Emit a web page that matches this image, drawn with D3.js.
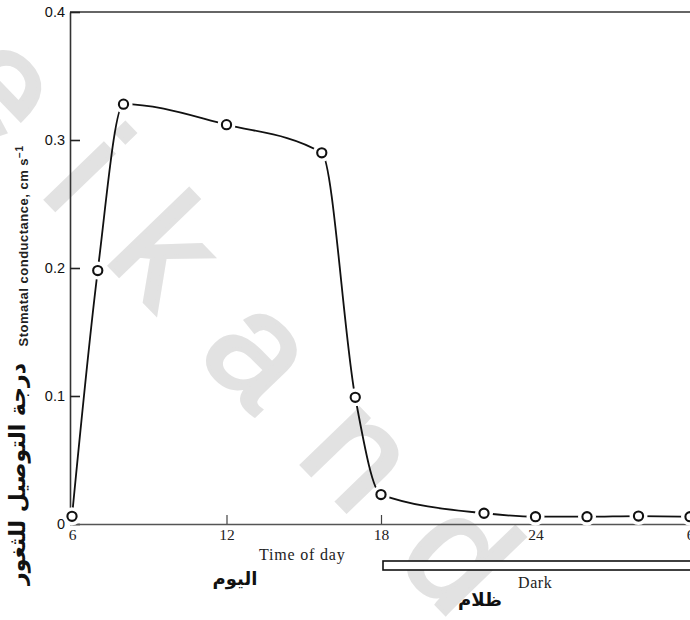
<!DOCTYPE html>
<html>
<head>
<meta charset="utf-8">
<script src="https://cdn.jsdelivr.net/npm/d3@7"></script>
<style>
  html, body { margin: 0; padding: 0; background: #fff; }
  svg { display: block; }
</style>
</head>
<body>
<svg id="chart" width="690" height="620"></svg>
<script>
// ---- data ----
const hours = [6, 7, 8, 12, 15.7, 17, 18, 22, 24, 26, 28, 30];
const conductance = [0.006, 0.198, 0.328, 0.312, 0.290, 0.099, 0.023, 0.0084, 0.0057, 0.0057, 0.0062, 0.0057];
const xTickValues = [6, 12, 18, 24, 30];
const xTickLabels = ["6", "12", "18", "24", "6"];
const yTickValues = [0, 0.1, 0.2, 0.3, 0.4];
const yTickLabels = ["0", "0.1", "0.2", "0.3", "0.4"];
const darkPeriod = [18, 30];
const watermarkText = "eikanda";

const points = hours.map((h, i) => ({ h, v: conductance[i] }));

const svg = d3.select("#chart");
const x = d3.scaleLinear().domain([6, 30]).range([72, 690]);
const y = d3.scaleLinear().domain([0, 0.4]).range([524, 12]);

// watermark
svg.append("text")
  .attr("transform", "translate(-60,90) rotate(46)")
  .attr("font-family", "Liberation Sans, Arial, sans-serif")
  .attr("font-size", 152)
  .attr("letter-spacing", 58)
  .attr("fill", "#e2e2e2")
  .attr("stroke", "#e2e2e2").attr("stroke-width", 4)
  .text(watermarkText);

// top frame line
svg.append("line")
  .attr("x1", 70).attr("x2", 690).attr("y1", y(0.4)).attr("y2", y(0.4))
  .attr("stroke", "#333").attr("stroke-width", 1.6);

// y axis
const yAxis = d3.axisLeft(y)
  .tickValues(yTickValues)
  .tickFormat((d, i) => yTickLabels[i])
  .tickSizeInner(-10).tickSizeOuter(0).tickPadding(5);
const gy = svg.append("g").attr("transform", "translate(70,0)").call(yAxis);
gy.select(".domain").attr("stroke", "#333").attr("stroke-width", 1.6);
gy.selectAll(".tick line").attr("stroke", "#222").attr("stroke-width", 1.6);
gy.selectAll(".tick text")
  .attr("font-family", "Liberation Sans, Arial, sans-serif")
  .attr("font-size", 14.5).attr("fill", "#111");

// x axis
const xAxis = d3.axisBottom(x)
  .tickValues(xTickValues)
  .tickFormat((d, i) => xTickLabels[i])
  .tickSizeInner(-9).tickSizeOuter(0).tickPadding(5);
const gx = svg.append("g").attr("transform", "translate(0,524)").call(xAxis);
gx.select(".domain").attr("stroke", "#555").attr("stroke-width", 1.4);
gx.selectAll(".tick line").attr("stroke", "#444").attr("stroke-width", 1.2);
gx.selectAll(".tick text")
  .attr("font-family", "Liberation Serif, Times New Roman, serif")
  .attr("font-size", 15.5).attr("fill", "#222");

// curve
const line = d3.line()
  .x(d => x(d.h)).y(d => y(d.v))
  .curve(d3.curveMonotoneX);
svg.append("path")
  .datum(points)
  .attr("d", line)
  .attr("fill", "none")
  .attr("stroke", "#111")
  .attr("stroke-width", 1.8);

// halos creating gaps near markers
svg.selectAll("circle.halo").data(points).join("circle")
  .attr("class", "halo")
  .attr("cx", d => x(d.h)).attr("cy", d => y(d.v))
  .attr("r", 9).attr("fill", "#fff");

svg.selectAll("circle.pt").data(points).join("circle")
  .attr("class", "pt")
  .attr("cx", d => x(d.h)).attr("cy", d => y(d.v))
  .attr("r", 4.6).attr("fill", "#fff")
  .attr("stroke", "#111").attr("stroke-width", 2.1);

// dark bar
svg.append("rect")
  .attr("x", x(darkPeriod[0]) + 2).attr("y", 561)
  .attr("width", x(darkPeriod[1]) - x(darkPeriod[0]) + 4).attr("height", 9)
  .attr("fill", "#fff").attr("stroke", "#111").attr("stroke-width", 1.6);

// labels
svg.append("text")
  .attr("x", 259).attr("y", 560)
  .attr("font-family", "Liberation Serif, Times New Roman, serif")
  .attr("font-size", 16).attr("letter-spacing", 0.8).attr("fill", "#222")
  .text("Time of day");

svg.append("text")
  .attr("x", 518).attr("y", 588)
  .attr("font-family", "Liberation Serif, Times New Roman, serif")
  .attr("font-size", 16).attr("letter-spacing", 0.6).attr("fill", "#222")
  .text("Dark");

svg.append("text")
  .attr("x", 235).attr("y", 585)
  .attr("text-anchor", "middle")
  .attr("font-family", "DejaVu Sans, sans-serif").attr("font-weight", "bold")
  .attr("font-size", 18).attr("fill", "#111")
  .text("اليوم");

svg.append("text")
  .attr("x", 480).attr("y", 606)
  .attr("text-anchor", "middle")
  .attr("font-family", "DejaVu Sans, sans-serif").attr("font-weight", "bold")
  .attr("font-size", 18).attr("fill", "#111")
  .text("ظلام");

// y axis label (English)
const yl = svg.append("text")
  .attr("transform", "translate(28,246) rotate(-90)")
  .attr("text-anchor", "middle")
  .attr("font-family", "Liberation Sans, Arial, sans-serif")
  .attr("font-weight", "bold")
  .attr("font-size", 13).attr("letter-spacing", 0.5).attr("fill", "#222");
yl.append("tspan").text("Stomatal conductance, cm s");
yl.append("tspan").attr("dy", -5).attr("font-size", 10).text("−1");

// y axis label (Arabic)
svg.append("text")
  .attr("transform", "translate(25,474) rotate(-90)")
  .attr("text-anchor", "middle")
  .attr("font-family", "DejaVu Sans, sans-serif").attr("font-weight", "bold")
  .attr("font-size", 22).attr("fill", "#111")
  .text("درجة التوصيل للثغور");
</script>
</body>
</html>
